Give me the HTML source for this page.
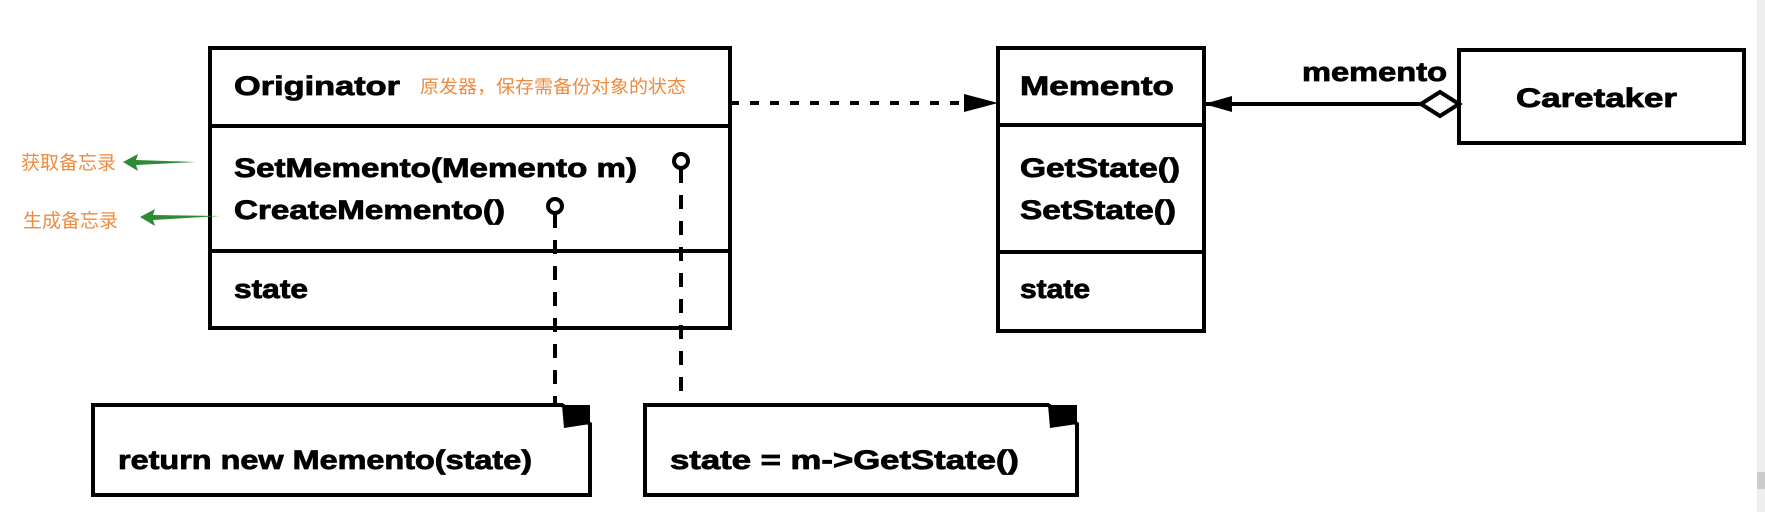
<!DOCTYPE html>
<html><head><meta charset="utf-8"><style>
html,body{margin:0;padding:0;background:#fff;}
svg{display:block}
.t{font-family:"Liberation Sans",sans-serif;font-weight:bold;fill:#000;stroke:#000;stroke-width:0.8;}
.cn{font-family:"Liberation Sans","Noto Sans CJK SC",sans-serif;fill:#f08a3c;}
</style></head><body>
<svg width="1765" height="512" viewBox="0 0 1765 512" xmlns="http://www.w3.org/2000/svg">
<rect x="1757" y="0" width="8" height="512" fill="#eeeeee"/>
<rect x="1757" y="472" width="8" height="17" fill="#cccccc"/>
<g stroke="#000" stroke-width="4" fill="none">
  <rect x="210" y="48" width="520" height="280"/>
  <line x1="210" y1="126" x2="730" y2="126"/>
  <line x1="210" y1="251" x2="730" y2="251"/>
  <rect x="998" y="48" width="206" height="283"/>
  <line x1="998" y1="125" x2="1204" y2="125"/>
  <line x1="998" y1="252" x2="1204" y2="252"/>
  <rect x="1459" y="50" width="285" height="93"/>
  <path d="M93,405 H562 L590,424 V495 H93 Z"/>
  <path d="M645,405 H1048 L1077,424 V495 H645 Z"/>
  <line x1="1204" y1="104" x2="1421" y2="104"/>
  <path d="M1421,104 L1440,92 L1459,104 L1440,116 Z" fill="#fff"/>
  <line x1="730" y1="103" x2="968" y2="103" stroke-dasharray="9,11"/>
  <line x1="681" y1="169" x2="681" y2="405" stroke-dasharray="14,12"/>
  <line x1="555" y1="214" x2="555" y2="405" stroke-dasharray="14,12"/>
  <circle cx="681" cy="161" r="7" stroke-width="4"/>
  <circle cx="555" cy="206" r="7" stroke-width="4"/>
</g>
<path d="M562,405 H590 V424 Z" fill="#000"/>
<path d="M562,405 L564,428 L590,424 Z" fill="#000"/>
<path d="M1048,405 H1077 V424 Z" fill="#000"/>
<path d="M1048,405 L1050,428 L1077,424 Z" fill="#000"/>
<path d="M998,103 L964,94 L964,112 Z" fill="#000"/>
<path d="M1204,104 L1232,96 L1232,112 Z" fill="#000"/>
<path d="M123,162 L138,154 L136,160 L196,162 L136,165 L138,171 Z" fill="#2e8b35"/>
<path d="M140,217 L155,209 L153,215 L220,216 L153,220 L155,226 Z" fill="#2e8b35"/>
<text class="cn" x="21" y="169" font-size="19" textLength="95" lengthAdjust="spacingAndGlyphs">获取备忘录</text>
<text class="cn" x="23" y="227" font-size="19" textLength="95" lengthAdjust="spacingAndGlyphs">生成备忘录</text>
<text class="cn" x="420" y="93" font-size="18" textLength="266" lengthAdjust="spacingAndGlyphs">原发器，保存需备份对象的状态</text>
<text class="t" x="234" y="95" font-size="27" textLength="166" lengthAdjust="spacingAndGlyphs">Originator</text>
<text class="t" x="234" y="177" font-size="27" textLength="403" lengthAdjust="spacingAndGlyphs">SetMemento(Memento m)</text>
<text class="t" x="234" y="219" font-size="27" textLength="271" lengthAdjust="spacingAndGlyphs">CreateMemento()</text>
<text class="t" x="234" y="298" font-size="27" textLength="74" lengthAdjust="spacingAndGlyphs">state</text>
<text class="t" x="1020" y="95" font-size="27" textLength="154" lengthAdjust="spacingAndGlyphs">Memento</text>
<text class="t" x="1020" y="177" font-size="27" textLength="160" lengthAdjust="spacingAndGlyphs">GetState()</text>
<text class="t" x="1020" y="219" font-size="27" textLength="156" lengthAdjust="spacingAndGlyphs">SetState()</text>
<text class="t" x="1020" y="298" font-size="27" textLength="70" lengthAdjust="spacingAndGlyphs">state</text>
<text class="t" x="1516" y="107" font-size="27" textLength="161" lengthAdjust="spacingAndGlyphs">Caretaker</text>
<text class="t" x="1302" y="81" font-size="27" textLength="145" lengthAdjust="spacingAndGlyphs">memento</text>
<text class="t" x="118" y="469" font-size="27" textLength="414" lengthAdjust="spacingAndGlyphs">return new Memento(state)</text>
<text class="t" x="670" y="469" font-size="27" textLength="349" lengthAdjust="spacingAndGlyphs">state = m-&gt;GetState()</text>
</svg>
</body></html>
